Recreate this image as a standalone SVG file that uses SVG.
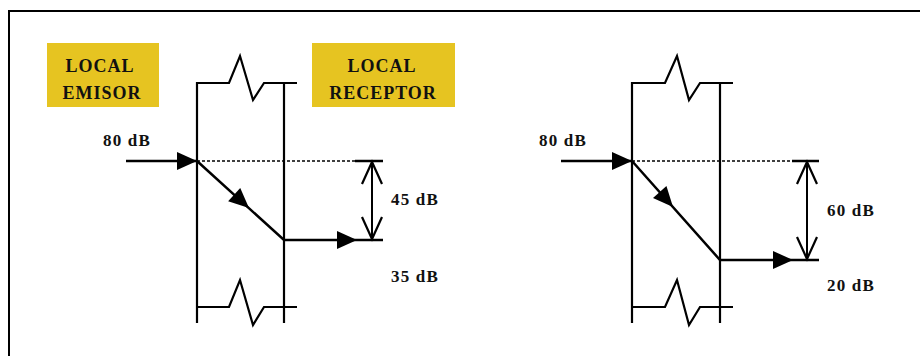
<svg xmlns="http://www.w3.org/2000/svg" xmlns:xlink="http://www.w3.org/1999/xlink" width="920" height="356" viewBox="0 0 920 356">
<style>
.frame{fill:none;stroke:#000;stroke-width:2}
.wall{fill:none;stroke:#000;stroke-width:2.2;stroke-linejoin:miter}
.line{fill:none;stroke:#000;stroke-width:2.5}
.dot{fill:none;stroke:#000;stroke-width:1.5;stroke-dasharray:3,2}
.vhead{fill:none;stroke:#000;stroke-width:2.2}
.box{fill:#E6C421}
.lbl{font-family:"Liberation Serif","Times New Roman",serif;font-weight:bold;font-size:18px;letter-spacing:1px;fill:#111;text-anchor:middle}
.db{font-family:"Liberation Serif","Times New Roman",serif;font-weight:bold;font-size:17px;letter-spacing:1.2px;fill:#111}
</style>
<defs>
<path id="ah" d="M0,0 L-20,-9 L-20,9 Z" fill="#000"/>
<path id="vh" d="M-10,22 L0,0 L10,22" class="vhead"/>
</defs>
<rect width="920" height="356" fill="#fff"/>
<path class="frame" d="M9,356 L9,11 L920,11"/>

<g id="emisor">
<rect class="box" x="47" y="43" width="112" height="64"/>
<text class="lbl" x="100" y="72">LOCAL</text>
<text class="lbl" x="102" y="99">EMISOR</text>
</g>
<g id="receptor">
<rect class="box" x="312" y="43" width="143" height="64"/>
<text class="lbl" x="382" y="72">LOCAL</text>
<text class="lbl" x="383" y="99">RECEPTOR</text>
</g>

<g id="wall-left">
<path class="wall" d="M197,323 L197,83 L229,83 L240,56 L253,100 L264,83 L297,83"/>
<path class="wall" d="M284,83 L284,323"/>
<path class="wall" d="M197,307 L229,307 L240,280 L253,325 L264,307 L297,307"/>
</g>
<g id="wall-right">
<path class="wall" d="M632,323 L632,83 L665,83 L677,56 L689,100 L700,83 L733,83"/>
<path class="wall" d="M720,83 L720,323"/>
<path class="wall" d="M632,307 L665,307 L677,280 L689,325 L700,307 L733,307"/>
</g>

<g id="connectors">
<path class="line" d="M126,161 L197,161"/>
<use xlink:href="#ah" transform="translate(197,161)"/>
<path class="dot" d="M197,161 L355,161"/>
<path class="line" d="M355,161 L383,161"/>
<path class="line" d="M197,161 L284,240 L383,240"/>
<use xlink:href="#ah" transform="translate(249,208) rotate(42.2)"/>
<use xlink:href="#ah" transform="translate(357,240)"/>
<path class="line" d="M372,162 L372,239" style="stroke-width:2"/>
<use xlink:href="#vh" transform="translate(372,162)"/>
<use xlink:href="#vh" transform="translate(372,239) rotate(180)"/>
<path class="line" d="M561,161 L632,161"/>
<use xlink:href="#ah" transform="translate(632,161)"/>
<path class="dot" d="M632,161 L792,161"/>
<path class="line" d="M792,161 L819,161"/>
<path class="line" d="M632,161 L720,260 L819,260"/>
<use xlink:href="#ah" transform="translate(673,207) rotate(48.4)"/>
<use xlink:href="#ah" transform="translate(793,260)"/>
<path class="line" d="M807,162 L807,259" style="stroke-width:2"/>
<use xlink:href="#vh" transform="translate(807,162)"/>
<use xlink:href="#vh" transform="translate(807,259) rotate(180)"/>
</g>

<g id="labels">
<text class="db" x="103" y="146">80 dB</text>
<text class="db" x="391" y="205">45 dB</text>
<text class="db" x="391" y="282">35 dB</text>
<text class="db" x="539" y="146">80 dB</text>
<text class="db" x="827" y="216">60 dB</text>
<text class="db" x="827" y="291">20 dB</text>
</g>
</svg>
